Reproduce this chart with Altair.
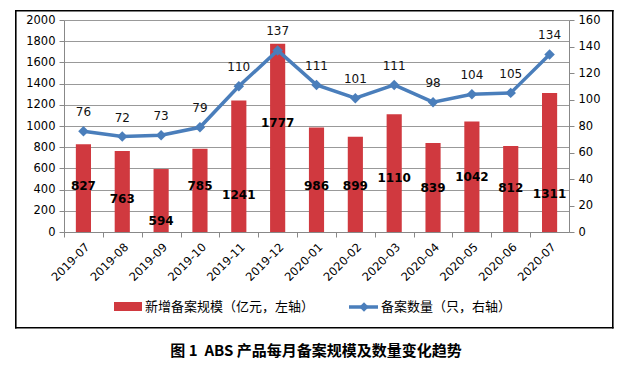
import altair as alt
import pandas as pd

months = ["2019-07", "2019-08", "2019-09", "2019-10", "2019-11", "2019-12",
          "2020-01", "2020-02", "2020-03", "2020-04", "2020-05", "2020-06", "2020-07"]
scale_vals = [827, 763, 594, 785, 1241, 1777, 986, 899, 1110, 839, 1042, 812, 1311]
counts = [76, 72, 73, 79, 110, 137, 111, 101, 111, 98, 104, 105, 134]
# where (in left-axis units) each bar's value label sits
bar_label_at = [430, 310, 105, 430, 350, 1030, 430, 430, 510, 415, 520, 415, 355]

left_ticks = list(range(0, 2001, 200))
right_ticks = list(range(0, 161, 20))

legend_bar = "新增备案规模（亿元，左轴）"
legend_line = "备案数量（只，右轴）"
caption = "图 1\u00a0\u00a0ABS 产品每月备案规模及数量变化趋势"

df = pd.DataFrame({"month": months, "scale": scale_vals, "count": counts,
                   "label_at": bar_label_at})

RED = "#d0393f"
BLUE = "#4a7ebb"
NUM_FONT = "DejaVu Sans"
CJK_FONT = "Noto Sans CJK SC"
W, H = 505, 212
step = W / len(months)

x_enc = alt.X("month:N", sort=months,
              scale=alt.Scale(paddingInner=0.61, paddingOuter=0.305),
              axis=alt.Axis(title=None, labelAngle=-45, labelAlign="right",
                            labelBaseline="top", labelFont=NUM_FONT,
                            labelFontSize=11.5, labelColor="#000000",
                            tickOffset=-step / 2, labelOffset=step / 2,
                            labelPadding=4, domainColor="#888888",
                            tickColor="#888888", tickSize=5, grid=False))
x_plain = alt.X("month:N", sort=months,
                scale=alt.Scale(paddingInner=0.61, paddingOuter=0.305))

bars = alt.Chart(df).mark_bar(color=RED).encode(
    x=x_enc,
    y=alt.Y("scale:Q", scale=alt.Scale(domain=[0, 2000]),
            axis=alt.Axis(title=None, values=left_ticks, format="d",
                          labelFont=NUM_FONT,
                          labelFontSize=11.5, labelColor="#000000",
                          domainColor="#888888", tickColor="#888888",
                          tickSize=5, grid=True, gridColor="#999999",
                          labelPadding=4)),
)
bar_labels = alt.Chart(df).mark_text(font=NUM_FONT, fontSize=12,
                                     fontWeight="bold", color="#000000").encode(
    x=x_plain,
    y=alt.Y("label_at:Q", scale=alt.Scale(domain=[0, 2000]), axis=None),
    text=alt.Text("scale:Q"),
)

line = alt.Chart(df).mark_line(color=BLUE, strokeWidth=3.5).encode(
    x=x_plain,
    y=alt.Y("count:Q", scale=alt.Scale(domain=[0, 160]),
            axis=alt.Axis(title=None, orient="right", values=right_ticks,
                          format="d",
                          labelFont=NUM_FONT, labelFontSize=11.5,
                          labelColor="#000000", domainColor="#888888",
                          tickColor="#888888", tickSize=5, grid=False,
                          labelPadding=4)),
)
pts = alt.Chart(df).mark_point(shape="diamond", filled=True, color=BLUE,
                               size=110, opacity=1).encode(
    x=x_plain,
    y=alt.Y("count:Q", scale=alt.Scale(domain=[0, 160]), axis=None),
)
line_labels = alt.Chart(df).mark_text(font=NUM_FONT, fontSize=12, dy=-19,
                                      color="#111111").encode(
    x=x_plain,
    y=alt.Y("count:Q", scale=alt.Scale(domain=[0, 160]), axis=None),
    text=alt.Text("count:Q"),
)

one = alt.Data(values=[{"k": 1}])

leg_rect = alt.Chart(one).mark_rect(color=RED).encode(
    x=alt.value(50), x2=alt.value(78), y=alt.value(282), y2=alt.value(291))
leg_text1 = alt.Chart(one).mark_text(text=legend_bar, align="left",
                                     baseline="middle", font=CJK_FONT,
                                     fontSize=13, color="#000000").encode(
    x=alt.value(81), y=alt.value(287))
leg_line = alt.Chart(one).mark_rule(color=BLUE, strokeWidth=3.5).encode(
    x=alt.value(285), x2=alt.value(314), y=alt.value(287))
leg_pt = alt.Chart(one).mark_point(shape="diamond", filled=True, color=BLUE,
                                   size=90, opacity=1).encode(
    x=alt.value(300), y=alt.value(287))
leg_text2 = alt.Chart(one).mark_text(text=legend_line, align="left",
                                     baseline="middle", font=CJK_FONT,
                                     fontSize=13, color="#000000").encode(
    x=alt.value(317), y=alt.value(287))

# frame around chart + legend, as filled thin rectangles
BL, BR, BT, BB = -49, 548, -10, 307
T = 1.6
FRAME = "#000000"
b_top = alt.Chart(one).mark_rect(color=FRAME).encode(
    x=alt.value(BL), x2=alt.value(BR + T), y=alt.value(BT), y2=alt.value(BT + T))
b_bot = alt.Chart(one).mark_rect(color=FRAME).encode(
    x=alt.value(BL), x2=alt.value(BR + T), y=alt.value(BB), y2=alt.value(BB + T))
b_left = alt.Chart(one).mark_rect(color=FRAME).encode(
    x=alt.value(BL), x2=alt.value(BL + T), y=alt.value(BT), y2=alt.value(BB + T))
b_right = alt.Chart(one).mark_rect(color=FRAME).encode(
    x=alt.value(BR), x2=alt.value(BR + T), y=alt.value(BT), y2=alt.value(BB + T))

cap = alt.Chart(one).mark_text(text=caption, align="center", baseline="middle",
                               font=CJK_FONT, fontSize=15, fontWeight="bold",
                               color="#000000").encode(
    x=alt.value(252), y=alt.value(331))

chart = alt.layer(
    bars, bar_labels, line, pts, line_labels,
    leg_rect, leg_text1, leg_line, leg_pt, leg_text2,
    b_top, b_bot, b_left, b_right, cap
).resolve_scale(y="independent").properties(
    width=W, height=H,
    autosize=alt.AutoSizeParams(type="none"),
    padding={"left": 56, "top": 12, "right": 53, "bottom": 127},
).configure_view(strokeWidth=0)

chart.save("out.html", embed_options={"renderer": "svg", "actions": False})
